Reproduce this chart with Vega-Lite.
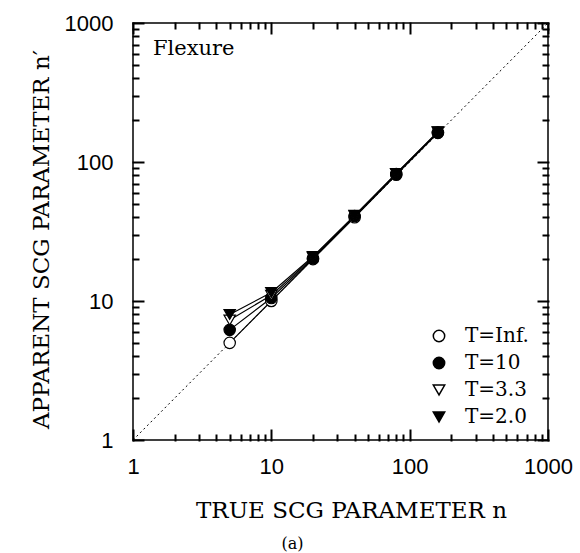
{
  "$schema": "https://vega.github.io/schema/vega-lite/v6.json",
  "width": 415,
  "height": 417,
  "autosize": "none",
  "padding": {"left": 133, "top": 23, "right": 32, "bottom": 113},
  "background": "white",
  "config": {
    "view": {"stroke": "black", "strokeWidth": 1.5},
    "axis": {"domain": false, "grid": false, "labelColor": "black", "titleColor": "black", "zindex": 1}
  },
  "title": {"text": "(a)", "orient": "bottom", "font": "DejaVu Serif", "fontSize": 16, "fontWeight": "normal", "color": "black", "offset": 14, "dx": -48},
  "datasets": {
    "diag": [{"n": 1, "v": 1}, {"n": 1000, "v": 1000}],
    "series": [
      {"s": "T=Inf.", "n": 5, "v": 5}, {"s": "T=Inf.", "n": 10, "v": 10}, {"s": "T=Inf.", "n": 20, "v": 20}, {"s": "T=Inf.", "n": 40, "v": 40}, {"s": "T=Inf.", "n": 80, "v": 81}, {"s": "T=Inf.", "n": 160, "v": 162},
      {"s": "T=10", "n": 5, "v": 6.2}, {"s": "T=10", "n": 10, "v": 10.5}, {"s": "T=10", "n": 20, "v": 20.3}, {"s": "T=10", "n": 40, "v": 40.8}, {"s": "T=10", "n": 80, "v": 82}, {"s": "T=10", "n": 160, "v": 163},
      {"s": "T=3.3", "n": 5, "v": 7.3}, {"s": "T=3.3", "n": 10, "v": 11.0}, {"s": "T=3.3", "n": 20, "v": 20.6}, {"s": "T=3.3", "n": 40, "v": 41}, {"s": "T=3.3", "n": 80, "v": 82.3}, {"s": "T=3.3", "n": 160, "v": 164},
      {"s": "T=2.0", "n": 5, "v": 8.0}, {"s": "T=2.0", "n": 10, "v": 11.5}, {"s": "T=2.0", "n": 20, "v": 20.9}, {"s": "T=2.0", "n": 40, "v": 41.3}, {"s": "T=2.0", "n": 80, "v": 82.6}, {"s": "T=2.0", "n": 160, "v": 165}
    ],
    "label": [{"n": 1.395, "v": 589, "t": "Flexure"}]
  },
  "resolve": {"axis": {"x": "independent", "y": "independent"}},
  "layer": [
    {
      "data": {"name": "diag"},
      "mark": {"type": "line", "color": "black", "strokeWidth": 1, "strokeDash": [2, 3]},
      "encoding": {
        "x": {
          "field": "n", "type": "quantitative",
          "scale": {"type": "log", "domain": [1, 1000], "nice": false},
          "axis": {
            "orient": "bottom", "offset": -10,
            "values": [1, 10, 100, 1000],
            "tickSize": 10, "tickColor": "#000000", "tickWidth": 2, "tickCap": "square",
            "format": "d",
            "labelFont": "Liberation Sans", "labelFontSize": 22, "labelPadding": 33,
            "labelOverlap": false, "labelFlush": false, "labelBaseline": "alphabetic",
            "title": "TRUE SCG PARAMETER n", "titleFont": "DejaVu Serif", "titleFontSize": 23, "titleFontWeight": "normal",
            "titleBaseline": "alphabetic", "titleX": 218, "titleY": 87
          }
        },
        "y": {
          "field": "v", "type": "quantitative",
          "scale": {"type": "log", "domain": [1, 1000], "nice": false},
          "axis": {
            "orient": "left", "offset": -10,
            "values": [1, 10, 100, 1000],
            "tickSize": 10, "tickColor": "#000000", "tickWidth": 2, "tickCap": "square",
            "format": "d",
            "labelFont": "Liberation Sans", "labelFontSize": 22, "labelPadding": 20,
            "labelOverlap": false, "labelFlush": false, "labelBaseline": "middle", "labelAlign": "right",
            "title": "APPARENT SCG PARAMETER n′", "titleFont": "DejaVu Serif", "titleFontSize": 23, "titleFontWeight": "normal",
            "titleBaseline": "alphabetic", "titleX": -95, "titleY": 216, "titleAngle": -90
          }
        }
      }
    },
    {
      "data": {"name": "series"},
      "mark": {"type": "line", "color": "black", "strokeWidth": 1.2},
      "encoding": {
        "x": {
          "field": "n", "type": "quantitative",
          "scale": {"type": "log", "domain": [1, 1000], "nice": false},
          "axis": {"orient": "bottom", "offset": -5, "values": [2,3,4,5,6,7,8,9,20,30,40,50,60,70,80,90,200,300,400,500,600,700,800,900], "tickSize": 5, "tickColor": "#000000", "tickWidth": 2, "tickCap": "square", "labels": false, "title": null}
        },
        "y": {
          "field": "v", "type": "quantitative",
          "scale": {"type": "log", "domain": [1, 1000], "nice": false},
          "axis": {"orient": "left", "offset": -5, "values": [2,3,4,5,6,7,8,9,20,30,40,50,60,70,80,90,200,300,400,500,600,700,800,900], "tickSize": 5, "tickColor": "#000000", "tickWidth": 2, "tickCap": "square", "labels": false, "title": null}
        },
        "detail": {"field": "s", "type": "nominal"}
      }
    },
    {
      "data": {"name": "series"},
      "mark": {"type": "point", "filled": true, "stroke": "black", "strokeWidth": 1.2, "size": 130, "opacity": 1},
      "encoding": {
        "x": {
          "field": "n", "type": "quantitative", "scale": {"type": "log", "domain": [1, 1000], "nice": false},
          "axis": {"orient": "top", "offset": -10, "values": [1, 10, 100, 1000], "tickSize": 10, "tickColor": "#000000", "tickWidth": 2, "tickCap": "square", "labels": false, "title": null}
        },
        "y": {
          "field": "v", "type": "quantitative", "scale": {"type": "log", "domain": [1, 1000], "nice": false},
          "axis": {"orient": "right", "offset": -10, "values": [1, 10, 100, 1000], "tickSize": 10, "tickColor": "#000000", "tickWidth": 2, "tickCap": "square", "labels": false, "title": null}
        },
        "shape": {
          "field": "s", "type": "nominal",
          "scale": {"domain": ["T=Inf.", "T=10", "T=3.3", "T=2.0"], "range": ["circle", "circle", "triangle-down", "triangle-down"]},
          "legend": {"title": null, "orient": "none", "legendX": 296, "legendY": 303, "padding": 0, "labelFont": "DejaVu Serif", "labelFontSize": 20, "labelColor": "black", "symbolSize": 130, "rowPadding": 7, "labelOffset": 16,
            "encode": {"symbols": {"update": {"stroke": {"value": "black"}, "strokeWidth": {"value": 1.2}}}}}
        },
        "fill": {
          "field": "s", "type": "nominal",
          "scale": {"domain": ["T=Inf.", "T=10", "T=3.3", "T=2.0"], "range": ["white", "black", "white", "black"]},
          "legend": {"title": null, "orient": "none", "legendX": 296, "legendY": 303, "padding": 0, "labelFont": "DejaVu Serif", "labelFontSize": 20, "labelColor": "black", "symbolSize": 130, "rowPadding": 7, "labelOffset": 16,
            "encode": {"symbols": {"update": {"stroke": {"value": "black"}, "strokeWidth": {"value": 1.2}}}}}
        }
      }
    },
    {
      "data": {"name": "label"},
      "mark": {"type": "text", "align": "left", "baseline": "alphabetic", "font": "DejaVu Serif", "fontSize": 21, "color": "black"},
      "encoding": {
        "x": {
          "field": "n", "type": "quantitative", "scale": {"type": "log", "domain": [1, 1000], "nice": false},
          "axis": {"orient": "top", "offset": -5, "values": [2,3,4,5,6,7,8,9,20,30,40,50,60,70,80,90,200,300,400,500,600,700,800,900], "tickSize": 5, "tickColor": "#000000", "tickWidth": 2, "tickCap": "square", "labels": false, "title": null}
        },
        "y": {
          "field": "v", "type": "quantitative", "scale": {"type": "log", "domain": [1, 1000], "nice": false},
          "axis": {"orient": "right", "offset": -5, "values": [2,3,4,5,6,7,8,9,20,30,40,50,60,70,80,90,200,300,400,500,600,700,800,900], "tickSize": 5, "tickColor": "#000000", "tickWidth": 2, "tickCap": "square", "labels": false, "title": null}
        },
        "text": {"field": "t"}
      }
    }
  ]
}
